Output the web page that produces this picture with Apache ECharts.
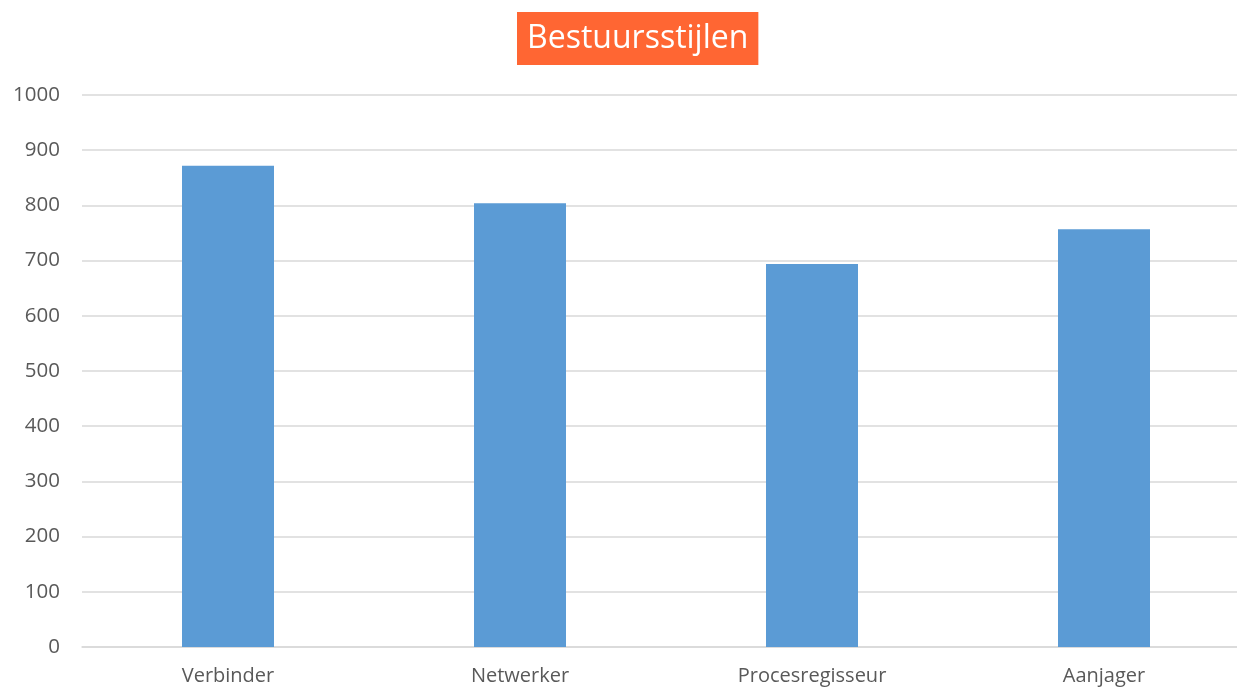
<!DOCTYPE html>
<html>
<head>
<meta charset="utf-8">
<script src="https://cdn.jsdelivr.net/npm/echarts@6/dist/echarts.min.js"></script>
<style>
  html, body { margin: 0; padding: 0; background: #fff; }
  #chart { width: 1237px; height: 690px; }
</style>
</head>
<body>
<div id="chart"></div>
<script>
const categories = ['Verbinder', 'Netwerker', 'Procesregisseur', 'Aanjager'];
const values = [872, 804, 694, 757];

const myChart = echarts.init(document.getElementById('chart'));
myChart.setOption({
  backgroundColor: '#fff',
  title: {
    text: 'Bestuursstijlen',
    left: 517,
    top: 12,
    padding: [8, 10],
    backgroundColor: '#ff6633',
    textStyle: {
      color: '#fff',
      fontFamily: 'Open Sans',
      fontSize: 32,
      fontWeight: 'normal',
      lineHeight: 37
    }
  },
  grid: {
    left: 82,
    top: 95,
    width: 1168,
    height: 552,
    containLabel: false,
    outerBoundsMode: 'none'
  },
  xAxis: {
    type: 'category',
    data: categories,
    axisLine: { show: true, lineStyle: { color: '#d9d9d9', width: 1.5 } },
    axisTick: { show: false },
    axisLabel: {
      color: '#595959',
      fontFamily: 'Open Sans',
      fontSize: 20,
      margin: 19
    }
  },
  yAxis: {
    type: 'value',
    min: 0,
    max: 1000,
    interval: 100,
    axisLine: { show: false },
    axisTick: { show: false },
    splitLine: { lineStyle: { color: '#d9d9d9', width: 1.5 } },
    axisLabel: {
      color: '#595959',
      fontFamily: 'Open Sans',
      fontSize: 20.5,
      margin: 22,
      formatter: (v) => String(v)
    }
  },
  series: [
    {
      name: 'Bestuursstijlen',
      type: 'bar',
      data: values,
      barWidth: 92,
      itemStyle: { color: '#5b9bd5' },
      silent: true
    }
  ]
});
</script>
</body>
</html>
